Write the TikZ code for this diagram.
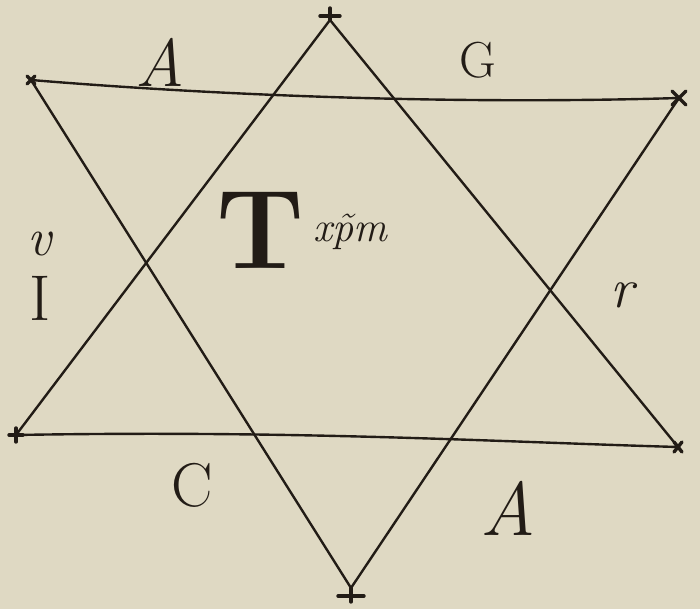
\documentclass[tikz,border=0pt]{standalone}
\usepackage{xcolor}
\usetikzlibrary{calc}
\definecolor{paper}{RGB}{223,217,195}
\definecolor{ink}{RGB}{34,28,22}

\begin{document}
\begin{tikzpicture}[x=0.025cm, y=-0.025cm,
    stroke/.style={draw=ink, line width=1.7pt, line cap=round, line join=miter},
    crosslet/.style={draw=ink, line width=2.4pt, line cap=round},
    lett/.style={text=ink, inner sep=0pt, font=\fontsize{40}{40}\selectfont},
    smalllett/.style={text=ink, inner sep=0pt, font=\fontsize{30}{30}\selectfont\itshape},
]
\fill[paper] (0,0) rectangle (700,609);
\useasboundingbox (0,0) rectangle (700,609);
% star points
\coordinate (t) at (330,20);
\coordinate (tl) at (31,80);
\coordinate (tr) at (679,98);
\coordinate (bl) at (16,435);
\coordinate (br) at (678,447);
\coordinate (b) at (351,588);
% the two triangles
\draw[stroke] (t) -- (bl) .. controls (300,430) and (500,442) .. (br) -- cycle;
\draw[stroke] (tl) .. controls (250,98) and (480,104) .. (tr) -- (b) -- cycle;
% crosslets at the points
\draw[crosslet] (t) -- (330,8) (320,16) -- (340,16);
\draw[crosslet] (b) -- (351,602) (338,596) -- (364,596);
\draw[crosslet] ($(tl)+(-4,-4)$) -- ($(tl)+(4,4)$) ($(tl)+(-4,4)$) -- ($(tl)+(4,-4)$);
\draw[crosslet] ($(tr)+(-7,-7)$) -- ($(tr)+(7,7)$) ($(tr)+(-7,7)$) -- ($(tr)+(7,-7)$);
\draw[crosslet] ($(bl)+(-7,0)$) -- ($(bl)+(7,0)$) ($(bl)+(0,-7)$) -- ($(bl)+(0,7)$);
\draw[crosslet] ($(br)+(-4,-5)$) -- ($(br)+(4,5)$) ($(br)+(-4,5)$) -- ($(br)+(4,-5)$);
% letters
\node[lett, font=\fontsize{48}{48}\selectfont\itshape] (atop) at (160,62) {A};
\node[lett, font=\fontsize{36}{36}\selectfont] (g) at (478,60) {G};
\node[smalllett, font=\fontsize{38}{38}\selectfont\itshape] (v) at (40,244) {v};
\node[lett, font=\fontsize{46}{46}\selectfont] (i) at (40,298) {I};
\node[lett, font=\fontsize{80}{80}\selectfont\bfseries] (cross) at (260,230) {T};
\node[smalllett] (xpm) at (350,232) {x\~pm};
\node[smalllett, font=\fontsize{40}{40}\selectfont\itshape] (r) at (622,295) {r};
\node[lett, font=\fontsize{44}{44}\selectfont] (c) at (192,485) {C};
\node[lett, font=\fontsize{54}{54}\selectfont\itshape] (abot) at (508,508) {A};
\end{tikzpicture}
\end{document}
